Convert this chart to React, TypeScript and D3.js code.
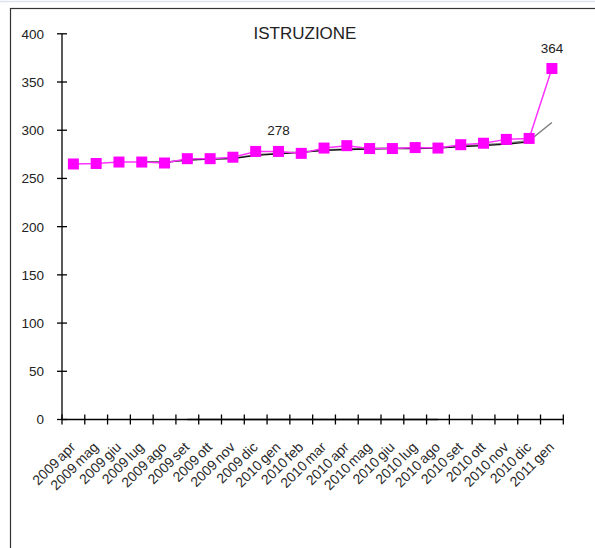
import React from "react";
import * as d3 from "d3";

const categories = ["2009 apr", "2009 mag", "2009 giu", "2009 lug", "2009 ago", "2009 set", "2009 ott", "2009 nov", "2009 dic", "2010 gen", "2010 feb", "2010 mar", "2010 apr", "2010 mag", "2010 giu", "2010 lug", "2010 ago", "2010 set", "2010 ott", "2010 nov", "2010 dic", "2011 gen"];
const istruzione = [265, 265.5, 267, 267, 266, 270.5, 270.5, 272, 278, 278, 276, 281.5, 284, 281, 281, 282, 281.5, 285, 286.5, 290.5, 291.5, 364];
const trendGray: (number | null)[] = [null, null, null, 267, 266.5, 269.5, 270.5, 271, 274.5, 276, 277.5, 279.5, 280.5, 281, 281.5, 281.5, 282, 283.5, 285, 286.5, 289, 308];
const trendBlack: (number | null)[] = [null, null, null, 267, 267, 269, 270, 270.5, 274, 275.5, 277, 279, 280, 280.5, 281, 281, 281.5, 283, 284, 285.5, 288, null];
const zeroSeries: (number | null)[] = [null, null, null, null, null, 0, 0, 0, 0, 0, 0, 0, 0, 0, 0, 0, 0, null, null, null, null, null];
const yTicks = [0, 50, 100, 150, 200, 250, 300, 350, 400];
const labelled = [{ idx: 9, text: "278" }, { idx: 21, text: "364" }];
const title = "ISTRUZIONE";

const FONT = "'Liberation Sans', Arial, sans-serif";

export default function App() {
  const x = d3.scaleBand<string>().domain(categories).range([62, 563.3]);
  const y = d3.scaleLinear().domain([0, 400]).range([419.5, 33.8]);
  const cx = (i: number) => (x(categories[i]) as number) + x.bandwidth() / 2;

  const line = d3
    .line<number | null>()
    .defined((d) => d !== null)
    .x((_, i) => cx(i))
    .y((d) => y(d as number));

  const boundaries = categories.map((c) => x(c) as number).concat([x.range()[1]]);

  return (
    <div style={{ position: "fixed", left: 0, top: 0 }}>
      <svg width={595} height={548} style={{ display: "block", background: "#fff" }}>
        <line x1={0} x2={595} y1={1.5} y2={1.5} stroke="#dde3ee" strokeWidth={1.5} />
        <rect x={10.5} y={8.5} width={700} height={700} fill="none" stroke="#333" strokeWidth={1.2} />
        <text x={305} y={39} textAnchor="middle" fontFamily={FONT} fontSize={17} fill="#222">
          {title}
        </text>

        {/* zero series on axis */}
        <path d={line(zeroSeries) || ""} fill="none" stroke="#999" strokeWidth={2} />

        {/* axes */}
        <line x1={62} x2={62} y1={y(400)} y2={y(0)} stroke="#000" strokeWidth={1.3} />
        {yTicks.map((t) => (
          <g key={t}>
            <line x1={57} x2={67} y1={y(t)} y2={y(t)} stroke="#000" strokeWidth={1.3} />
            <text x={44} y={y(t)} dy="0.36em" textAnchor="end" fontFamily={FONT} fontSize={13.5} fill="#222">
              {t}
            </text>
          </g>
        ))}
        <line x1={62} x2={x.range()[1]} y1={y(0)} y2={y(0)} stroke="#000" strokeWidth={1.3} />
        {boundaries.map((b, i) => (
          <line key={i} x1={b} x2={b} y1={y(0) - 5} y2={y(0) + 5} stroke="#000" strokeWidth={1.3} />
        ))}
        {categories.map((c, i) => (
          <text
            key={c}
            transform={`translate(${cx(i) + 3},${448}) rotate(-45)`}
            textAnchor="end"
            fontFamily={FONT}
            fontSize={14}
            wordSpacing={-1.5}
            fill="#2a2a2a"
          >
            {c}
          </text>
        ))}

        {/* trend lines */}
        <path d={line(trendGray) || ""} fill="none" stroke="#7f7f7f" strokeWidth={1.5} />
        <path d={line(trendBlack) || ""} fill="none" stroke="#111" strokeWidth={1.3} />

        {/* main series */}
        <path d={line(istruzione) || ""} fill="none" stroke="#ff33ff" strokeWidth={1.5} />
        {istruzione.map((v, i) => (
          <rect key={i} x={cx(i) - 5.5} y={y(v) - 5.5} width={11} height={11} fill="#ff00ff" />
        ))}
        {labelled.map((l) => (
          <text
            key={l.idx}
            x={cx(l.idx)}
            y={y(istruzione[l.idx]) - 16}
            textAnchor="middle"
            fontFamily={FONT}
            fontSize={13.5}
            fill="#222"
          >
            {l.text}
          </text>
        ))}
      </svg>
    </div>
  );
}
